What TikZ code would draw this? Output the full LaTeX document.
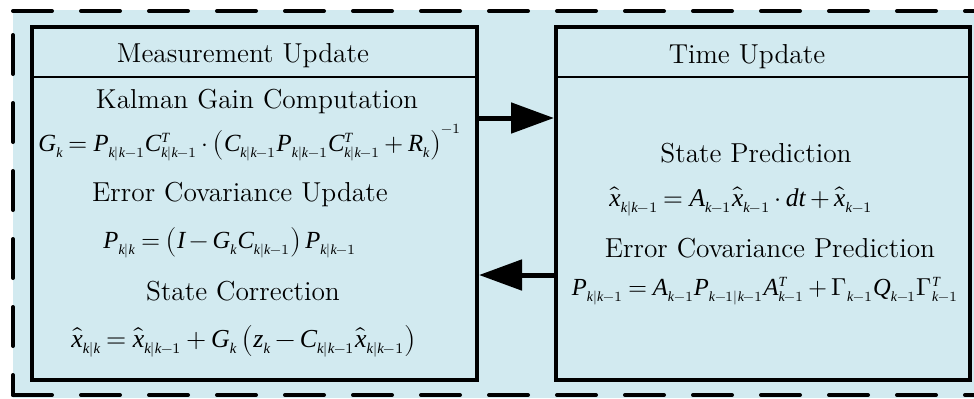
\documentclass[tikz,border=0pt]{standalone}
\usepackage{amsmath}
\usepackage{unicode-math}
\setmathfont{Latin Modern Math}
\setmathfont[range={it/{latin,Latin}}]{Liberation Serif Italic}
\usepackage{graphicx}
\usepackage{xcolor}
\usepackage{tikz}
\usetikzlibrary{arrows.meta}
\definecolor{paleblue}{RGB}{210,234,240}
\DeclareMathSizes{13.7}{13.7}{7.8}{6.2}
\newcommand{\fiteq}[2]{\resizebox{#1}{!}{\medmuskip=3mu \thickmuskip=4mu $#2$}}

\begin{document}
\begin{tikzpicture}[
  x=0.5pt, y=-0.5pt,
  font=\fontsize{13.7}{16}\selectfont,
  stage/.style={draw, line width=2pt, minimum width=#1, minimum height=176.5pt, inner sep=0pt},
  sep/.style={line width=1pt},
  frame/.style={line width=2pt, line cap=round, dash pattern=on 19.5pt off 14.5pt},
  lbl/.style={anchor=base, inner sep=0pt},
  flow/.style={-{Triangle[length=21.5pt, width=15pt]}, line width=2.5pt}
]
\useasboundingbox (0,0) rectangle (974,398);
\fill[paleblue] (13,10) rectangle (974,398);
% dashed frame
\coordinate (tl) at (13,11);
\coordinate (bl) at (13,395);
\draw[frame] (tl) -- (980,11);
\draw[frame] (13,35) -- (bl);
\draw[frame] (bl) -- (980,395);
% the two stages
\node[stage=222.5pt] (mu) at (254.5,203.5) {};
\node[stage=207pt]   (tu) at (763,203.5) {};
\draw[sep] ([yshift=-26pt]mu.north west) -- ([yshift=-26pt]mu.north east);
\draw[sep] ([yshift=-26pt]tu.north west) -- ([yshift=-26pt]tu.north east);
% measurement update
\node[lbl] (muhead) at (243,62)  {Measurement Update};
\node[lbl] (gaint)  at (257,108) {Kalman Gain Computation};
\node[lbl] (gaineq) at (250,151) {\fiteq{211.5pt}{G_k = P_{k|k-1}C^T_{k|k-1}\cdot\left(C_{k|k-1}P_{k|k-1}C^T_{k|k-1}+R_k\right)^{-1}}};
\node[lbl] (covt)   at (240,201) {Error Covariance Update};
\node[lbl] (coveq)  at (230,248) {\fiteq{126.5pt}{P_{k|k} = \left(I-G_kC_{k|k-1}\right)P_{k|k-1}}};
\node[lbl] (corrt)  at (243,300) {State Correction};
\node[lbl] (correq) at (244,347) {\fiteq{172.5pt}{\hat{x}_{k|k} = \hat{x}_{k|k-1}+G_k\left(z_k-C_{k|k-1}\hat{x}_{k|k-1}\right)}};
% time update
\node[lbl] (tuhead) at (747,63)  {Time Update};
\node[lbl] (predt)  at (756,162) {State Prediction};
\node[lbl] (predeq) at (741,206) {\fiteq{131.5pt}{\hat{x}_{k|k-1} = A_{k-1}\hat{x}_{k-1}\cdot dt+\hat{x}_{k-1}}};
\node[lbl] (cpt)    at (770,257) {Error Covariance Prediction};
\node[lbl] (cpeq)   at (765,295) {\fiteq{193pt}{P_{k|k-1} = A_{k-1}P_{k-1|k-1}A^T_{k-1}+\Gamma_{k-1}Q_{k-1}\Gamma^T_{k-1}}};

\draw[flow] ([yshift=42.75pt]mu.east) -- ([yshift=42.75pt]tu.west);
\draw[flow] ([yshift=-35.75pt]tu.west) -- ([yshift=-35.75pt]mu.east);
\end{tikzpicture}
\end{document}
